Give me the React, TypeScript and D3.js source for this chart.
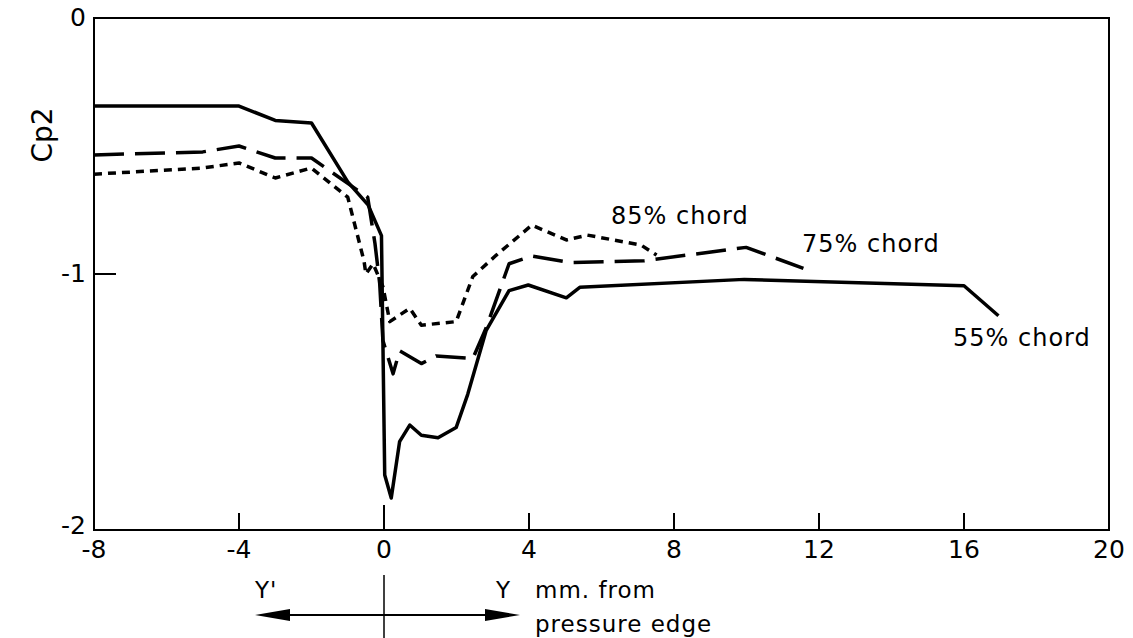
import React from "react";
import * as d3 from "d3";

const W = 1133;
const H = 638;
const margin = { top: 18, right: 24, bottom: 108, left: 94 };

// Cp2 versus distance from pressure edge (mm), three chord stations
const chord55X = [-8, -4, -3, -2, -1, -0.44, -0.07, 0.02, 0.2, 0.43, 0.71, 1.03, 1.49, 1.99, 2.31, 2.82, 3.45, 3.98, 5.03, 5.4, 9.94, 16.0, 16.95];
const chord55Y = [-0.344, -0.344, -0.4, -0.41, -0.64, -0.73, -0.85, -1.785, -1.875, -1.655, -1.59, -1.63, -1.64, -1.6, -1.47, -1.22, -1.065, -1.043, -1.093, -1.052, -1.021, -1.046, -1.163];

const chord75X = [-8, -5, -4, -3, -2, -1, -0.45, -0.25, -0.12, -0.03, 0.25, 0.43, 1.03, 1.44, 2.45, 2.82, 3.45, 4.08, 5.13, 7.18, 9.99, 11.57];
const chord75Y = [-0.535, -0.523, -0.5, -0.547, -0.547, -0.646, -0.7, -0.88, -1.035, -1.26, -1.39, -1.3, -1.35, -1.32, -1.33, -1.21, -0.96, -0.93, -0.955, -0.948, -0.896, -0.978];

const chord85X = [-8, -5, -4, -3, -2, -1, -0.55, -0.5, -0.3, -0.03, 0.16, 0.71, 1.03, 1.99, 2.45, 3.1, 4.08, 5.03, 5.61, 7.09, 7.52];
const chord85Y = [-0.61, -0.586, -0.566, -0.625, -0.586, -0.7, -0.95, -1.0, -0.96, -1.05, -1.186, -1.134, -1.2, -1.186, -1.01, -0.926, -0.809, -0.867, -0.848, -0.887, -0.926];

const xTicks = [-8, -4, 0, 4, 8, 12, 16, 20];
const yTicks = [0, -1, -2];

const seriesNames = ["55% chord", "75% chord", "85% chord"];

const font = "'DejaVu Sans', sans-serif";

export default function App() {
  const x = d3.scaleLinear().domain([-8, 20]).range([margin.left, W - margin.right]);
  const y = d3.scaleLinear().domain([0, -2]).range([margin.top, H - margin.bottom]);

  const line = d3
    .line<[number, number]>()
    .x((d) => x(d[0]))
    .y((d) => y(d[1]));

  const zip = (xs: number[], ys: number[]) => xs.map((v, i) => [v, ys[i]] as [number, number]);

  const series = [
    { pts: zip(chord55X, chord55Y), dash: null },
    { pts: zip(chord75X, chord75Y), dash: "30 11" },
    { pts: zip(chord85X, chord85Y), dash: "8 6" },
  ];

  const x0 = x(-8), x1 = x(20), y0 = y(0), y1 = y(-2);
  const zx = x(0);
  const arrowY = 615;

  return (
    <svg width={W} height={H} style={{ position: "absolute", left: 0, top: 0, background: "#fff" }}>
      {/* frame */}
      <rect x={x0} y={y0} width={x1 - x0} height={y1 - y0} fill="none" stroke="#000" strokeWidth={2} />

      {/* x ticks, pointing inward */}
      {xTicks.slice(1, -1).map((t) => (
        <line key={"xt" + t} x1={x(t)} x2={x(t)} y1={y1} y2={y1 - (t === 0 ? 25 : 17)} stroke="#000" strokeWidth={2} />
      ))}
      {xTicks.map((t) => (
        <text key={"xl" + t} x={x(t)} y={y1 + 28} textAnchor="middle" fontFamily={font} fontSize={25} fill="#000">
          {t < 0 ? "-" + Math.abs(t) : t}
        </text>
      ))}

      {/* y ticks */}
      <line x1={x0} x2={x0 + 22} y1={y(-1)} y2={y(-1)} stroke="#000" strokeWidth={2} />
      {yTicks.map((t) => (
        <text key={"yl" + t} x={x0 - 8} y={y(t) + (t === -2 ? 4 : 8)} textAnchor="end" fontFamily={font} fontSize={25} fill="#000">
          {t === 0 ? "0" : "-" + Math.abs(t)}
        </text>
      ))}

      <text transform={`translate(52,${135}) rotate(-90)`} textAnchor="middle" fontFamily={font} fontSize={28} fill="#000">
        Cp2
      </text>

      {/* curves */}
      {series.map((s, i) => (
        <path key={"s" + i} d={line(s.pts) || ""} fill="none" stroke="#000" strokeWidth={3.5}
          strokeDasharray={s.dash || undefined} strokeLinejoin="round" />
      ))}

      {/* curve labels */}
      <text x={611} y={224} fontFamily={font} fontSize={24} letterSpacing={1} fill="#000">{seriesNames[2]}</text>
      <text x={802} y={252} fontFamily={font} fontSize={24} letterSpacing={1} fill="#000">{seriesNames[1]}</text>
      <text x={953} y={346} fontFamily={font} fontSize={24} letterSpacing={1} fill="#000">{seriesNames[0]}</text>

      {/* direction annotation */}
      <line x1={zx} x2={zx} y1={575} y2={H} stroke="#000" strokeWidth={1.5} />
      <line x1={288} x2={487} y1={arrowY} y2={arrowY} stroke="#000" strokeWidth={2} />
      <polygon points={`255,${arrowY} 290,${arrowY - 6} 290,${arrowY + 6}`} fill="#000" />
      <polygon points={`520,${arrowY} 485,${arrowY - 6} 485,${arrowY + 6}`} fill="#000" />
      <text x={255} y={598} fontFamily={font} fontSize={23} letterSpacing={1} fill="#000">Y'</text>
      <text x={496} y={598} fontFamily={font} fontSize={23} fill="#000">Y</text>
      <text x={535} y={598} fontFamily={font} fontSize={23} letterSpacing={1} fill="#000">mm. from</text>
      <text x={535} y={632} fontFamily={font} fontSize={23} letterSpacing={1} fill="#000">pressure edge</text>
    </svg>
  );
}
